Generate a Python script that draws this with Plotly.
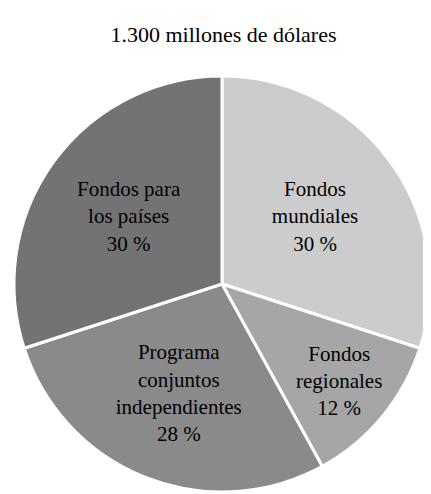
import plotly.graph_objects as go

labels = ["Fondos mundiales", "Fondos regionales", "Programa conjuntos independientes", "Fondos para los países"]
values = [30, 12, 28, 30]
texts = ["Fondos<br>mundiales<br>30 %", "Fondos<br>regionales<br>12 %",
         "Programa<br>conjuntos<br>independientes<br>28 %", "Fondos para<br>los países<br>30 %"]
colors = ["#cccccc", "#a6a6a6", "#8a8a8a", "#737373"]

FONT = "Times New Roman"

fig = go.Figure()

fig.add_pie(
    labels=labels, values=values, text=texts,
    textinfo="text", textposition="inside", insidetextorientation="horizontal",
    sort=False, direction="clockwise", rotation=0,
    marker=dict(colors=colors, line=dict(color="white", width=3)),
    textfont=dict(family=FONT, size=21, color="black"),
    showlegend=False, hoverinfo="label+percent"
)

fig.update_layout(
    width=431, height=494,
    margin=dict(l=6, r=9, t=68, b=10),
    title=dict(text="1.300 millones de dólares", x=0.5, xanchor="center",
               font=dict(family=FONT, size=22, color="black")),
    uniformtext=dict(minsize=21, mode="show")
)

fig.write_html("out.html")
